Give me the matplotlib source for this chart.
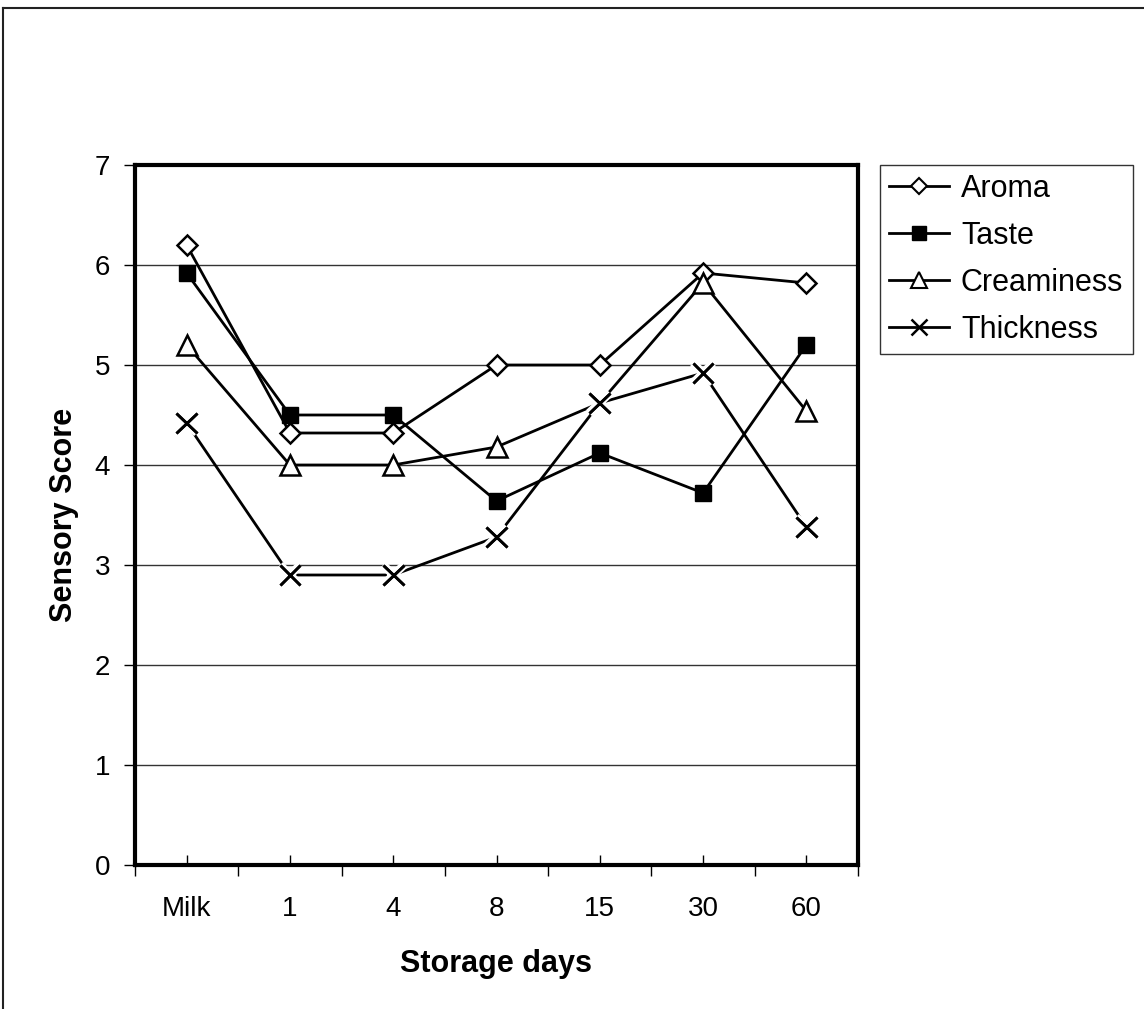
import matplotlib.pyplot as plt
from matplotlib.lines import Line2D
import matplotlib.patheffects as pe

plt.rcParams['font.family'] = ['Liberation Sans', 'DejaVu Sans']

# Sensory scores over storage time
days = ['Milk', '1', '4', '8', '15', '30', '60']
aroma = [6.2, 4.32, 4.32, 5.0, 5.0, 5.92, 5.82]
taste = [5.92, 4.5, 4.5, 3.64, 4.12, 3.72, 5.2]
creaminess = [5.2, 4.0, 4.0, 4.18, 4.62, 5.82, 4.54]
thickness = [4.42, 2.9, 2.9, 3.28, 4.62, 4.92, 3.38]

fig = plt.figure(figsize=(11.44, 10.09), dpi=100)
ax = fig.add_axes([135 / 1144, 1 - 865 / 1009, 723 / 1144, 700 / 1009])

x = list(range(len(days)))

ax.plot(x, aroma, color='black', lw=2, marker='D', ms=10, mfc='white',
        mec='black', mew=1.8, label='Aroma', zorder=3)
ax.plot(x, taste, color='black', lw=2, marker='s', ms=11, mfc='black',
        mec='black', label='Taste', zorder=3)
# triangle at day 15 sits under the thickness cross
ax.plot(x, creaminess, color='black', lw=2, marker='^', ms=14, mfc='white',
        mec='black', mew=1.8, markevery=[0, 1, 2, 3, 5, 6],
        label='Creaminess', zorder=3)
ax.plot(x, thickness, color='black', lw=2, zorder=3)
ax.plot(x, thickness, ls='none', marker='x', ms=15, mew=2, color='black',
        zorder=4,
        path_effects=[pe.withStroke(linewidth=6, foreground='white'),
                      pe.Normal()])

ax.set_xlim(-0.5, len(days) - 0.5)
ax.set_ylim(0, 7)
ax.set_yticks(range(8))
ax.set_xticks(x)
ax.set_xticklabels(days)
ax.set_xticks([i - 0.5 for i in range(len(days) + 1)], minor=True)
ax.yaxis.grid(True, color='#333333', lw=1)
ax.set_axisbelow(True)

ax.tick_params(axis='x', which='major', direction='in', length=7, width=1,
               labelsize=20, pad=22)
ax.tick_params(axis='x', which='minor', direction='out', length=8, width=1)
ax.tick_params(axis='y', direction='out', length=8, width=1, labelsize=20,
               pad=10)
for side in ax.spines.values():
    side.set_linewidth(3)

ax.set_xlabel('Storage days', fontsize=22, fontweight='bold', labelpad=20)
ax.set_ylabel('Sensory Score', fontsize=22, fontweight='bold', labelpad=11)

handles = [
    Line2D([], [], color='black', lw=2, marker='D', ms=8, mfc='white',
           mew=1.5),
    Line2D([], [], color='black', lw=2, marker='s', ms=10, mfc='black'),
    Line2D([], [], color='black', lw=2, marker='^', ms=11, mfc='white',
           mew=1.5),
    Line2D([], [], color='black', lw=2, marker='x', ms=11, mew=1.8),
]
leg = fig.legend(handles, ['Aroma', 'Taste', 'Creaminess', 'Thickness'],
                 loc='upper left', bbox_to_anchor=(880 / 1144, 1 - 165 / 1009),
                 fontsize=22, frameon=True, fancybox=False, handlelength=1.95,
                 handletextpad=0.4, borderpad=0.3, labelspacing=0.55,
                 borderaxespad=0)
leg.get_frame().set_edgecolor('black')
leg.get_frame().set_linewidth(1)

# outer border, top and left edges only
fig.add_artist(Line2D([3 / 1144, 3 / 1144], [0, 1 - 8 / 1009],
                      transform=fig.transFigure, color='#222222', lw=1.5))
fig.add_artist(Line2D([3 / 1144, 1], [1 - 8 / 1009, 1 - 8 / 1009],
                      transform=fig.transFigure, color='#222222', lw=1.5))

fig.savefig('out.png', dpi=100)
